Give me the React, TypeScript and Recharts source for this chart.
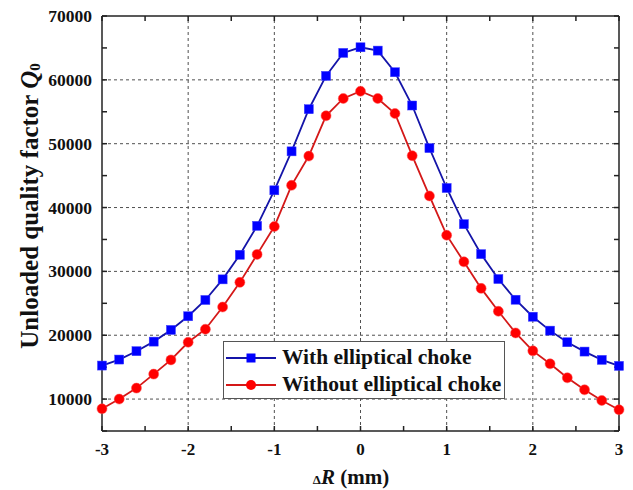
import React from 'react';
import { LineChart, Line, XAxis, YAxis, ReferenceLine, Legend, Label } from 'recharts';

const deltaR = [
  -3, -2.8, -2.6, -2.4, -2.2, -2, -1.8, -1.6, -1.4, -1.2, -1, -0.8, -0.6, -0.4, -0.2, 0,
  0.2, 0.4, 0.6, 0.8, 1, 1.2, 1.4, 1.6, 1.8, 2, 2.2, 2.4, 2.6, 2.8, 3,
];
const withChoke = [
  15250, 16190, 17500, 19000, 20830, 22970, 25520, 28750, 32600, 37130, 42700, 48800, 55400,
  60620, 64220, 65100, 64580, 61190, 55980, 49310, 43060, 37390, 32700, 28800, 25560, 22900,
  20720, 18900, 17440, 16140, 15200,
];
const withoutChoke = [
  8480, 10000, 11720, 13910, 16140, 18900, 20940, 24420, 28280, 32660, 37030, 43480, 48060,
  54370, 57080, 58220, 57080, 54730, 48120, 41820, 35670, 31500, 27340, 23750, 20360, 17550,
  15520, 13330, 11450, 9780, 8330,
];

const xTicks = [-3, -2.5, -2, -1.5, -1, -0.5, 0, 0.5, 1, 1.5, 2, 2.5, 3];
const xLabels = [-3, -2, -1, 0, 1, 2, 3];
const yTicks = [
  5000, 10000, 15000, 20000, 25000, 30000, 35000, 40000, 45000, 50000, 55000, 60000, 65000, 70000,
];
const yLabels = [10000, 20000, 30000, 40000, 50000, 60000, 70000];
const gridX = [-2, -1, 0, 1, 2];
const gridY = [10000, 20000, 30000, 40000, 50000, 60000];
const xMax = 3;
const yMax = 70000;

const data = deltaR.map((r, i) => ({ r, withChoke: withChoke[i], withoutChoke: withoutChoke[i] }));

const FONT = '"Liberation Serif", "Times New Roman", serif';
const AXIS = '#222';
const GRID = '#505050';

const BLUE_LINE = '#1414a8';
const BLUE_MARK = '#0000ff';
const RED_LINE = '#d41818';
const RED_MARK = '#ff0000';

const Square = (props: any) => {
  const { cx, cy } = props;
  if (cx == null || cy == null) return <g />;
  return <rect x={cx - 4.5} y={cy - 4.5} width={9} height={9} fill={BLUE_MARK} stroke="#3a3aff" strokeWidth={0.5} />;
};

const Circle = (props: any) => {
  const { cx, cy } = props;
  if (cx == null || cy == null) return <g />;
  return <circle cx={cx} cy={cy} r={5} fill={RED_MARK} stroke="#ff5050" strokeWidth={0.5} />;
};

const XTick = (props: any) => {
  const { x, y, payload } = props;
  if (!xLabels.includes(payload.value)) return <g />;
  return (
    <text x={x} y={y + 24} textAnchor="middle" fontFamily={FONT} fontWeight="bold" fontSize={17} fill="#111">
      {payload.value}
    </text>
  );
};

const YTick = (props: any) => {
  const { x, y, payload } = props;
  if (!yLabels.includes(payload.value)) return <g />;
  return (
    <text x={x - 10} y={y + 6} textAnchor="end" fontFamily={FONT} fontWeight="bold" fontSize={17.5} fill="#111">
      {payload.value}
    </text>
  );
};

// short inward tick on the top edge of the frame
const TopTick = (p: any) => {
  const top = Math.min(p.y1, p.y2);
  return <line x1={p.x1} x2={p.x1} y1={top} y2={top + 5} stroke={AXIS} strokeWidth={1.5} />;
};

// short inward tick on the right edge of the frame
const RightTick = (p: any) => {
  const right = Math.max(p.x1, p.x2);
  return <line x1={right} x2={right - 5} y1={p.y1} y2={p.y1} stroke={AXIS} strokeWidth={1.5} />;
};

const LegendBox = () => (
  <div
    style={{
      border: '1px solid #555',
      background: '#fff',
      width: 282,
      height: 58,
      boxSizing: 'border-box',
      paddingTop: 2,
      fontFamily: FONT,
      fontWeight: 'bold',
      fontSize: 21.5,
      color: '#111',
    }}
  >
    {[
      { name: 'With elliptical choke', line: BLUE_LINE, square: true },
      { name: 'Without elliptical choke', line: RED_LINE, square: false },
    ].map((s) => (
      <div key={s.name} style={{ display: 'flex', alignItems: 'center', height: 27, lineHeight: '27px' }}>
        <svg width={56} height={20} style={{ flex: 'none' }}>
          <line x1={2} x2={52} y1={10} y2={10} stroke={s.line} strokeWidth={2} />
          {s.square ? (
            <rect x={22.5} y={5.5} width={9} height={9} fill={BLUE_MARK} />
          ) : (
            <circle cx={27} cy={10} r={5} fill={RED_MARK} />
          )}
        </svg>
        <span style={{ marginLeft: 2, whiteSpace: 'nowrap' }}>{s.name}</span>
      </div>
    ))}
  </div>
);

export default function App() {
  return (
    <div style={{ position: 'absolute', left: 0, top: 0 }}>
      <LineChart width={633} height={490} data={data} margin={{ top: 16, right: 14, bottom: 0, left: 0 }}>
        <XAxis
          dataKey="r"
          type="number"
          domain={[-3, 3]}
          ticks={xTicks}
          interval={0}
          height={59}
          stroke={AXIS}
          strokeWidth={1.5}
          tickSize={-5}
          tickMargin={5}
          tick={<XTick />}
        >
          <Label
            content={() => (
              <text x={351} y={484} textAnchor="middle" fontFamily={FONT} fontWeight="bold" fontSize={21} fill="#111">
                <tspan fontSize={13}>Δ</tspan>
                <tspan fontStyle="italic">R</tspan>
                <tspan> (mm)</tspan>
              </text>
            )}
          />
        </XAxis>
        <YAxis
          type="number"
          domain={[5000, 70000]}
          ticks={yTicks}
          interval={0}
          width={102}
          stroke={AXIS}
          strokeWidth={1.5}
          tickSize={-5}
          tickMargin={5}
          tick={<YTick />}
        >
          <Label
            content={() => (
              <text
                x={29}
                y={206}
                transform="rotate(-90, 29, 206)"
                textAnchor="middle"
                dominantBaseline="central"
                fontFamily={FONT}
                fontWeight="bold"
                fontSize={25}
                fill="#111"
              >
                Unloaded quality factor <tspan fontStyle="italic">Q</tspan>
                <tspan fontSize={15} dy={6}>0</tspan>
              </text>
            )}
          />
        </YAxis>
        {gridX.map((v) => (
          <ReferenceLine key={`gx${v}`} x={v} stroke={GRID} strokeDasharray="3 3" strokeWidth={1} />
        ))}
        {gridY.map((v) => (
          <ReferenceLine key={`gy${v}`} y={v} stroke={GRID} strokeDasharray="3 3" strokeWidth={1} />
        ))}
        <ReferenceLine x={xMax} stroke={AXIS} strokeWidth={1.5} />
        <ReferenceLine y={yMax} stroke={AXIS} strokeWidth={1.5} />
        {xTicks.map((v) => (
          <ReferenceLine key={`tt${v}`} x={v} shape={<TopTick />} />
        ))}
        {yTicks.map((v) => (
          <ReferenceLine key={`rt${v}`} y={v} shape={<RightTick />} />
        ))}
        <Line
          dataKey="withChoke"
          name="With elliptical choke"
          stroke={BLUE_LINE}
          strokeWidth={1.8}
          dot={<Square />}
          activeDot={false}
          isAnimationActive={false}
        />
        <Line
          dataKey="withoutChoke"
          name="Without elliptical choke"
          stroke={RED_LINE}
          strokeWidth={1.8}
          dot={<Circle />}
          activeDot={false}
          isAnimationActive={false}
        />
        <Legend
          layout="vertical"
          align="center"
          verticalAlign="middle"
          content={<LegendBox />}
          wrapperStyle={{ left: 223, top: 341, width: 282, height: 58 }}
        />
      </LineChart>
    </div>
  );
}
